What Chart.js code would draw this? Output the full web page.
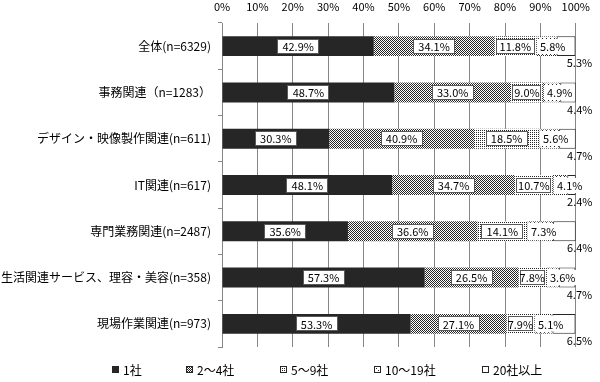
<!DOCTYPE html>
<html>
<head>
<meta charset="utf-8">
<script src="https://cdn.jsdelivr.net/npm/chart.js@4/dist/chart.umd.min.js"></script>
<style>
html,body{margin:0;padding:0;background:#fff;}
#wrap{width:600px;height:382px;}
</style>
</head>
<body>
<div id="wrap"><canvas id="c" width="600" height="382"></canvas></div>
<script>
const categories = ['全体(n=6329)', '事務関連（n=1283）', 'デザイン・映像製作関連(n=611)', 'IT関連(n=617)', '専門業務関連(n=2487)', '生活関連サービス、理容・美容(n=358)', '現場作業関連(n=973)'];
const seriesNames = ['1社', '2～4社', '5～9社', '10～19社', '20社以上'];
const s1 = [42.9, 48.7, 30.3, 48.1, 35.6, 57.3, 53.3];
const s2 = [34.1, 33.0, 40.9, 34.7, 36.6, 26.5, 27.1];
const s3 = [11.8, 9.0, 18.5, 10.7, 14.1, 7.8, 7.9];
const s4 = [5.8, 4.9, 5.6, 4.1, 7.3, 3.6, 5.1];
const s5 = [5.3, 4.4, 4.7, 2.4, 6.4, 4.7, 6.5];
const xTicks = [0, 10, 20, 30, 40, 50, 60, 70, 80, 90, 100];

const FONT = "'Noto Sans CJK JP', 'Noto Sans', sans-serif";
const DARK = '#262626';

function makePattern(size, dots, fg, bg) {
  const c = document.createElement('canvas');
  c.width = size; c.height = size;
  const x = c.getContext('2d');
  x.fillStyle = bg; x.fillRect(0, 0, size, size);
  x.fillStyle = fg;
  dots.forEach(d => x.fillRect(d[0], d[1], 1, 1));
  return x.createPattern(c, 'repeat');
}
const pChecker = makePattern(2, [[0,0],[1,1]], DARK, '#ffffff');
const pDots = makePattern(2, [[0,0]], DARK, '#ffffff');
const pSparse = makePattern(4, [[0,0],[2,2]], DARK, '#ffffff');

const fills = [DARK, pChecker, pDots, pSparse, '#ffffff'];
const seriesData = [s1, s2, s3, s4, s5];

const datasets = seriesData.map((d, i) => ({
  label: seriesNames[i],
  data: d,
  backgroundColor: fills[i],
  borderColor: i === 3 ? pChecker : DARK,
  borderWidth: i >= 3 ? 1 : 0,
  borderSkipped: false,
  categoryPercentage: 1.0,
  barPercentage: 0.43
}));

const labelPlugin = {
  id: 'labels',
  afterDatasetsDraw(chart) {
    const ctx = chart.ctx;
    ctx.save();
    ctx.font = '11px ' + FONT;
    ctx.textBaseline = 'middle';
    chart.data.datasets.forEach((ds, di) => {
      const meta = chart.getDatasetMeta(di);
      meta.data.forEach((el, i) => {
        const txt = ds.data[i].toFixed(1) + '%';
        const tw = ctx.measureText(txt).width;
        const h = 15;
        const cy = el.y;
        const by = Math.round(cy - h / 2);
        if (di === 4) {
          ctx.textAlign = 'center';
          ctx.fillStyle = '#000';
          ctx.fillText(txt, el.x + 4, el.y + el.height / 2 + 7);
        } else if (di === 3) {
          const bx = Math.round(el.base) + 1;
          const w = Math.round(tw + 6);
          ctx.fillStyle = '#fff';
          ctx.fillRect(bx, by, w, h);
          ctx.textAlign = 'left';
          ctx.fillStyle = '#000';
          ctx.fillText(txt, bx + 3, cy + 0.5);
        } else {
          const cx = (el.x + el.base) / 2;
          const segW = Math.abs(el.x - el.base);
          const w = Math.round(Math.min(tw + 10, segW - 3));
          const bx = Math.round(cx - w / 2);
          ctx.fillStyle = '#fff';
          ctx.fillRect(bx, by, w, h);
          ctx.strokeStyle = '#595959';
          ctx.lineWidth = 1;
          ctx.strokeRect(bx + 0.5, by + 0.5, w - 1, h - 1);
          ctx.textAlign = 'center';
          ctx.fillStyle = '#000';
          ctx.fillText(txt, cx, cy + 0.5);
        }
      });
    });
    ctx.restore();
  }
};

const legendPlugin = {
  id: 'customLegend',
  afterDraw(chart) {
    const ctx = chart.ctx;
    const xs = [112, 186, 280, 374, 482];
    const y = 370;
    ctx.save();
    ctx.font = '12px ' + FONT;
    ctx.textBaseline = 'middle';
    ctx.textAlign = 'left';
    chart.data.datasets.forEach((ds, i) => {
      const bx = xs[i];
      ctx.fillStyle = ds.backgroundColor;
      ctx.fillRect(bx, y - 4, 7, 7);
      ctx.strokeStyle = DARK;
      ctx.lineWidth = 1;
      ctx.strokeRect(bx + 0.5, y - 3.5, 6, 6);
      ctx.fillStyle = '#000';
      ctx.fillText(ds.label, bx + 11, y);
    });
    ctx.restore();
  }
};

new Chart(document.getElementById('c'), {
  type: 'bar',
  data: { labels: categories, datasets: datasets },
  plugins: [labelPlugin, legendPlugin],
  options: {
    indexAxis: 'y',
    responsive: false,
    animation: false,
    devicePixelRatio: 1,
    layout: { padding: { left: 0, right: 21, top: 0, bottom: 35 } },
    plugins: { legend: { display: false }, tooltip: { enabled: false } },
    scales: {
      x: {
        position: 'top',
        stacked: true,
        min: 0, max: 100,
        afterBuildTicks(scale) { scale.ticks = xTicks.map(v => ({ value: v })); },
        afterFit(scale) { scale.height = 23; },
        ticks: {
          callback: v => v + '%',
          color: '#000',
          font: { family: FONT, size: 11 },
          padding: 10,
          maxRotation: 0
        },
        grid: { color: '#868686', drawTicks: false, tickLength: 0 },
        border: { display: false }
      },
      y: {
        stacked: true,
        afterFit(scale) { scale.width = 222; },
        ticks: {
          color: '#000',
          font: { family: FONT, size: 12 },
          padding: 7
        },
        grid: { offset: true, drawOnChartArea: false, tickLength: 4, color: '#868686' },
        border: { display: true, color: '#868686' }
      }
    }
  }
});
</script>
</body>
</html>
